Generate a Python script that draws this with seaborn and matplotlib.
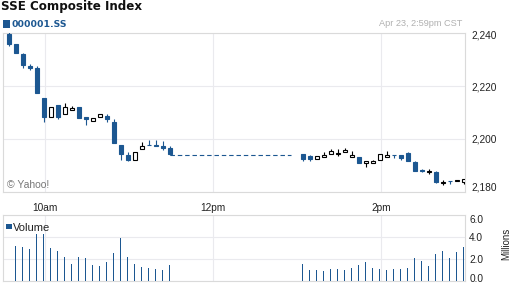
import numpy as np
import pandas as pd
import matplotlib
matplotlib.use("Agg")
import matplotlib.pyplot as plt
from matplotlib.patches import Rectangle
from matplotlib.ticker import FuncFormatter, FixedLocator
from matplotlib.transforms import ScaledTranslation
import seaborn as sns

# ---------------- data ----------------
title = "SSE Composite Index"
symbol = "000001.SS"
stamp = "Apr 23, 2:59pm CST"
credit = "\u00a9 Yahoo!"

bar_start = ["09:30", "09:35", "09:40", "09:45", "09:50", "09:55",
             "10:00", "10:05", "10:10", "10:15", "10:20", "10:25",
             "10:30", "10:35", "10:40", "10:45", "10:50", "10:55",
             "11:00", "11:05", "11:10", "11:15", "11:20", "11:25",
             "13:00", "13:05", "13:10", "13:15", "13:20", "13:25",
             "13:30", "13:35", "13:40", "13:45", "13:50", "13:55",
             "14:00", "14:05", "14:10", "14:15", "14:20", "14:25",
             "14:30", "14:35", "14:40", "14:45", "14:50", "14:55"]

open_ = [2239.8, 2235.8, 2232.1, 2227.5, 2226.8, 2215.5,
         2208.2, 2212.7, 2209.3, 2210.8, 2212.1, 2208.3,
         2206.7, 2208.2, 2208.8, 2206.4, 2197.7, 2194.0,
         2192.0, 2196.2, 2197.8, 2197.7, 2197.4, 2196.6,
         2194.5, 2193.4, 2192.6, 2193.1, 2194.2, 2194.3,
         2195.0, 2193.1, 2193.1, 2190.8, 2190.8, 2192.1,
         2193.2, 2193.9, 2194.0, 2194.7, 2191.5, 2188.1,
         2187.5, 2187.5, 2183.5, 2184.1, 2184.2, 2183.8]
high = [2240.3, 2235.8, 2232.5, 2228.4, 2227.7, 2215.5,
        2212.0, 2212.7, 2213.6, 2212.5, 2212.1, 2208.3,
        2207.9, 2209.3, 2209.5, 2207.5, 2197.7, 2195.1,
        2195.0, 2198.9, 2199.7, 2199.8, 2199.1, 2197.4,
        2194.5, 2194.0, 2193.5, 2195.0, 2196.2, 2196.2,
        2196.5, 2195.4, 2193.1, 2191.6, 2191.9, 2194.3,
        2195.5, 2193.9, 2194.0, 2195.2, 2191.8, 2188.6,
        2188.7, 2188.0, 2184.5, 2184.1, 2184.6, 2184.8]
low = [2235.1, 2232.5, 2226.9, 2226.2, 2217.2, 2206.5,
       2208.2, 2207.7, 2209.3, 2210.8, 2208.0, 2205.4,
       2206.7, 2208.2, 2206.5, 2198.6, 2192.2, 2191.8,
       2192.0, 2196.2, 2197.6, 2197.5, 2195.8, 2193.8,
       2191.8, 2191.8, 2192.6, 2193.1, 2194.2, 2193.5,
       2195.0, 2193.1, 2190.8, 2189.3, 2190.8, 2192.1,
       2193.2, 2192.7, 2192.1, 2191.7, 2188.0, 2187.5,
       2186.7, 2183.3, 2182.5, 2182.9, 2184.0, 2182.9]
close = [2235.7, 2232.5, 2228.0, 2226.9, 2217.2, 2208.4,
         2212.0, 2208.4, 2212.0, 2211.7, 2208.0, 2207.7,
         2207.9, 2209.3, 2207.7, 2198.6, 2194.5, 2192.2,
         2195.0, 2197.4, 2197.6, 2197.5, 2196.6, 2194.4,
         2192.6, 2192.4, 2193.5, 2194.0, 2195.4, 2194.4,
         2195.8, 2194.0, 2190.8, 2191.6, 2191.6, 2194.3,
         2194.1, 2193.8, 2192.7, 2191.7, 2188.0, 2188.0,
         2187.5, 2183.8, 2183.5, 2184.0, 2184.3, 2184.8]
volume = [np.nan, 3.21, 3.12, 2.91, 4.27, 4.27,
          3.00, 2.73, 2.18, 1.55, 2.18, 2.09,
          1.45, 1.36, 1.73, 2.55, 3.91, 2.18,
          1.55, 1.27, 1.18, 1.09, 1.00, 1.45,
          1.58, 1.03, 1.03, 0.94, 1.12, 1.12,
          1.03, 1.21, 1.48, 1.76, 1.21, 1.12,
          1.03, 1.12, 1.12, 1.21, 2.12, 1.85,
          1.39, 2.48, 2.76, 2.12, 2.67, 3.12]
lunch_close = 2193.8
lunch_start, lunch_end = "11:29", "12:56"

price_ticks = [2180, 2200, 2220, 2240]
vol_ticks = [0, 2, 4, 6]
hour_ticks = ["10:00", "12:00", "14:00"]
hour_labels = ["10am", "12pm", "2pm"]

# ---------------- style ----------------
BLUE = "#1c5791"
GRID = "#eaeaee"
SPINE = "#dadada"
TXT = "#222222"

def minutes(s):
    hh, mm = s.split(":")
    return int(hh) * 60 + int(mm)

x = np.array([minutes(s) for s in bar_start], dtype=float) + 4.0
o = np.array(open_); h = np.array(high); l = np.array(low); c = np.array(close)
down = c < o

sns.set_style("white")
plt.rcParams["font.family"] = ["Liberation Sans", "DejaVu Sans"]

W, H = 512, 288
fig = plt.figure(figsize=(W / 100, H / 100), dpi=100)

def rect(left, top, right, bottom):
    return [left / W, 1 - bottom / H, (right - left) / W, (bottom - top) / H]

ax = fig.add_axes(rect(3, 33, 465, 192))
axv = fig.add_axes(rect(3, 215, 465, 281))

xmin, xmax = minutes("09:30"), minutes("15:00")

def shift(label, dy_px):
    label.set_transform(label.get_transform() +
                        ScaledTranslation(0, -dy_px / 100, fig.dpi_scale_trans))

# ---- candles ----
colors = np.where(down, BLUE, "black")
ax.vlines(x, l, h, colors=colors, lw=0.8, zorder=3)
bottoms = np.minimum(o, c)
heights = np.maximum(np.abs(c - o), 0.3)
face = np.where(down, BLUE, "white")
ax.bar(x, heights, bottom=bottoms, width=2.9, color=face, edgecolor=colors,
       linewidth=0.8, zorder=4)
ax.plot([minutes(lunch_start), minutes(lunch_end)], [lunch_close, lunch_close],
        color=BLUE, lw=0.8, ls=(0, (4, 2.6)), zorder=3)

ax.set_xlim(xmin, xmax)
ax.set_ylim(price_ticks[0], price_ticks[-1])
ax.yaxis.tick_right()
ax.set_yticks(price_ticks)
ax.yaxis.set_major_formatter(FuncFormatter(lambda v, p: f"{v:,.0f}"))
ax.tick_params(axis="y", length=0, pad=4.8, labelsize=7.3, labelcolor=TXT)
ax.set_xticks([minutes(t) for t in hour_ticks])
ax.set_xticklabels(hour_labels)
ax.xaxis.set_minor_locator(FixedLocator(np.arange(xmin, xmax + 1, 30)))
ax.tick_params(axis="x", which="both", length=2.4, width=0.8, color=SPINE,
               direction="out", pad=5.5, labelsize=7.3, labelcolor=TXT)
ax.grid(True, which="major", color=GRID, lw=0.8)
ax.set_axisbelow(True)
for s in ax.spines.values():
    s.set_color(SPINE); s.set_linewidth(0.8)
labs = ax.get_yticklabels()
shift(labs[-1], 2)
shift(labs[0], -5)

# ---- volume ----
vdf = pd.DataFrame({"t": x, "v": volume})
sns.barplot(data=vdf, x="t", y="v", native_scale=True, width=0.16, color=BLUE,
            saturation=1, errorbar=None, linewidth=0, ax=axv, zorder=3)
axv.set_xlim(xmin, xmax)
axv.set_ylim(vol_ticks[0], vol_ticks[-1])
axv.set_xlabel(""); axv.set_ylabel("")
axv.set_xticks([minutes(t) for t in hour_ticks])
axv.set_xticklabels([])
axv.tick_params(axis="x", length=0)
axv.yaxis.tick_right()
axv.set_yticks(vol_ticks)
axv.yaxis.set_major_formatter(FuncFormatter(lambda v, p: f"{v:.1f}"))
axv.tick_params(axis="y", length=0, pad=3.0, labelsize=7.3, labelcolor=TXT)
axv.grid(True, color=GRID, lw=0.8)
axv.set_axisbelow(True)
for s in axv.spines.values():
    s.set_color(SPINE); s.set_linewidth(0.8)
vl = axv.get_yticklabels()
shift(vl[0], -2.7)
shift(vl[-1], 4)

# ---- texts ----
def fy(py):
    return 1 - py / H

fig.text(1 / W, fy(10), title, fontsize=8.6, fontweight="bold",
         family="DejaVu Sans", color="#111111", va="baseline")
fig.patches.append(Rectangle((3 / W, fy(27.5)), 7 / W, 7 / H, transform=fig.transFigure,
                             facecolor=BLUE, edgecolor="none"))
fig.text(11 / W, fy(27), symbol, fontsize=6.7, fontweight="bold",
         family="DejaVu Sans", color=BLUE, va="baseline")
fig.text(462 / W, fy(26.5), stamp, fontsize=6.6, color="#b0b0b0", ha="right", va="baseline")
fig.text(6.7 / W, fy(188), credit, fontsize=7.5, color="#777777", va="baseline")
fig.patches.append(Rectangle((6 / W, fy(229)), 5.5 / W, 5.5 / H, transform=fig.transFigure,
                             facecolor=BLUE, edgecolor="none"))
fig.text(12.7 / W, fy(231), "Volume", fontsize=8, color=TXT, va="baseline")
fig.text(506 / W, fy(244), "Millions", fontsize=7, color=TXT, rotation=90,
         ha="center", va="center")

fig.savefig("out.png", dpi=100)
